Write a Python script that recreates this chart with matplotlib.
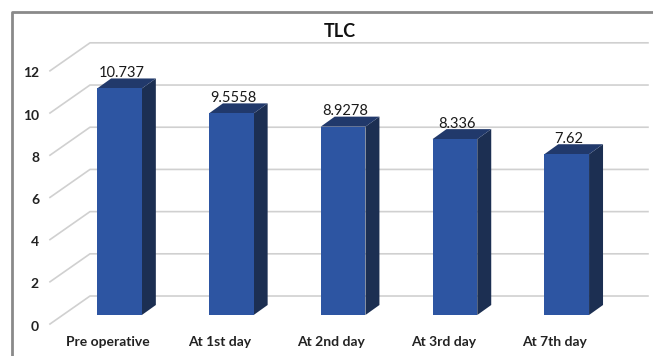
import matplotlib.pyplot as plt
from matplotlib.patches import Polygon

categories = ['Pre operative', 'At 1st day', 'At 2nd day', 'At 3rd day', 'At 7th day']
values = [10.737, 9.5558, 8.9278, 8.336, 7.62]
value_labels = ['10.737', '9.5558', '8.9278', '8.336', '7.62']
yticks = [0, 2, 4, 6, 8, 10, 12]

FRONT = '#2d55a2'
SIDE = '#1c2f52'
TOP = '#21396b'
GRID = '#d0d0d0'

# oblique 3d look: offsets in data units
bw = 0.40          # bar width
ddx, ddy = 0.125, 0.474   # bar depth
floor_front = (-0.622, -0.427)
floor_back = (-0.264, 0.90)
grid_right = 4.727

plt.rcParams['font.family'] = ['Lato', 'DejaVu Sans']

fig = plt.figure(figsize=(6.53, 3.56), dpi=100)
ax = fig.add_axes([0, 0, 1, 1])
ax.set_xlim(-1.069, 4.772)
ax.set_ylim(-1.943, 14.93)
ax.axis('off')

# gridlines (floor diagonal + back wall)
for t in yticks:
    xs = [floor_front[0], floor_back[0], grid_right]
    ys = [t + floor_front[1], t + floor_back[1], t + floor_back[1]]
    ax.plot(xs, ys, color=GRID, lw=1.2, zorder=1)
    ax.text(-0.72, t + floor_front[1] - 0.12, str(t), ha='right', va='center',
            fontsize=10, fontweight='bold', color='#222222')

for i, v in enumerate(values):
    x0, x1 = i - bw / 2, i + bw / 2
    side = [(x1, 0), (x1 + ddx, ddy), (x1 + ddx, v + ddy), (x1, v)]
    top = [(x0, v), (x1, v), (x1 + ddx, v + ddy), (x0 + ddx, v + ddy)]
    front = [(x0, 0), (x1, 0), (x1, v), (x0, v)]
    ax.add_patch(Polygon(side, closed=True, fc=SIDE, ec='none', zorder=2))
    ax.add_patch(Polygon(top, closed=True, fc=TOP, ec='none', zorder=2))
    ax.add_patch(Polygon(front, closed=True, fc=FRONT, ec='none', zorder=3))
    ax.text(i + 0.02, v + ddy - 0.08, value_labels[i], ha='center', va='bottom',
            fontsize=10.5, color='#1a1a1a', zorder=4)
    ax.text(i - 0.105, -1.28, categories[i], ha='center', va='center',
            fontsize=10, fontweight='bold', color='#222222')

ax.text(1.97, 13.45, 'TLC', ha='center', va='center', fontsize=13,
        fontweight='bold', color='#111111')

# chart border (left and top only visible)
ax.plot([12 / 653, 12 / 653, 1], [0, 344 / 356, 344 / 356], transform=ax.transAxes,
        color='#8a8a8a', lw=2, clip_on=False, zorder=5)

fig.savefig('out.png', dpi=100)
